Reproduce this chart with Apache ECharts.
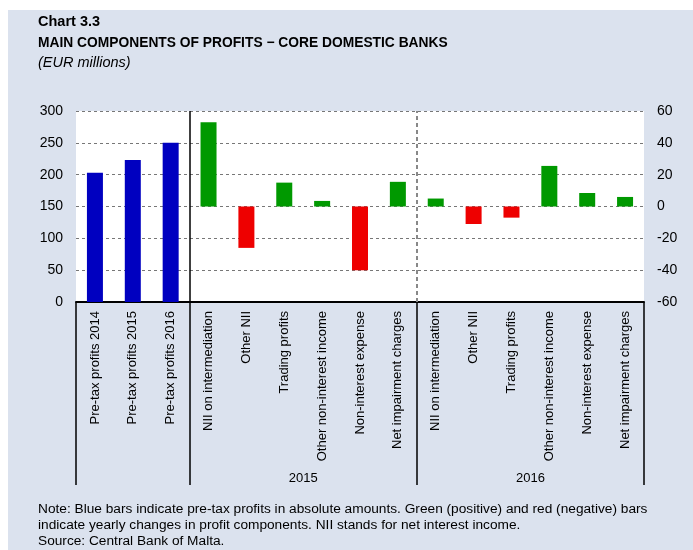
<!DOCTYPE html>
<html>
<head>
<meta charset="utf-8">
<script src="https://cdn.jsdelivr.net/npm/echarts@6/dist/echarts.min.js"></script>
<style>
  html, body { margin: 0; padding: 0; background: #fff; }
  #bg { position: absolute; left: 8px; top: 10px; width: 685px; height: 540px; background: #dbe2ee; }
  #chart { position: absolute; left: 0; top: 0; width: 693px; height: 550px; }
</style>
</head>
<body>
<div id="bg"></div>
<div id="chart"></div>
<script>
// categories along the bottom
const categories = [
  'Pre-tax profits 2014', 'Pre-tax profits 2015', 'Pre-tax profits 2016',
  'NII on intermediation', 'Other NII', 'Trading profits', 'Other non-interest income', 'Non-interest expense', 'Net impairment charges',
  'NII on intermediation', 'Other NII', 'Trading profits', 'Other non-interest income', 'Non-interest expense', 'Net impairment charges'
]
// pre-tax profits, left axis
const profits = [203, 223, 250, '-', '-', '-', '-', '-', '-', '-', '-', '-', '-', '-', '-']
// yearly changes, right axis
const changes = ['-', '-', '-', 53, -26, 15, 3.5, -40, 15.5, 5, -11, -7, 25.5, 8.5, 6]
const years = { 6: '2015', 12: '2016' }

const chart = echarts.init(document.getElementById('chart'))
const font = 'Liberation Sans, Arial, sans-serif'

const option = {
  animation: false,
  backgroundColor: 'transparent',
  textStyle: { fontFamily: font },
  title: [
    { text: 'Chart 3.3', left: 33, top: 9, textStyle: { fontSize: 14.5, fontWeight: 'bold', color: '#000', fontFamily: font } },
    { text: 'MAIN COMPONENTS OF PROFITS \u2212 CORE DOMESTIC BANKS', left: 33, top: 31, textStyle: { fontSize: 13.8, fontWeight: 'bold', color: '#000', fontFamily: font } },
    { text: '(EUR millions)', left: 33, top: 50, textStyle: { fontSize: 14.5, fontStyle: 'italic', fontWeight: 'normal', color: '#000', fontFamily: font } },
    {
      text: 'Note: Blue bars indicate pre-tax profits in absolute amounts. Green (positive) and red (negative) bars\nindicate yearly changes in profit components. NII stands for net interest income.\nSource: Central Bank of Malta.',
      left: 33, top: 496,
      textStyle: { fontSize: 13.7, fontWeight: 'normal', color: '#000', lineHeight: 16, fontFamily: font }
    }
  ],
  grid: { left: 76, right: 49, top: 111, bottom: 248, backgroundColor: '#fff', show: true, borderWidth: 0 },
  xAxis: [
    {
      type: 'category',
      data: categories,
      axisLine: { lineStyle: { color: '#000', width: 2 } },
      axisTick: {
        show: true,
        length: 183,
        interval: function (i) { return i === 0 || i === 3 || i === 9 },
        lineStyle: { color: '#000', width: 1.5 }
      },
      axisLabel: { rotate: 90, fontSize: 13, color: '#000', margin: 9, interval: 0 }
    },
    {
      type: 'value',
      min: 0, max: 15, interval: 3,
      position: 'bottom',
      offset: 162,
      axisLine: { show: false },
      axisTick: { show: false },
      splitLine: { show: false },
      axisLabel: {
        fontSize: 13, color: '#000', margin: 8,
        formatter: function (v) { return years[v] || '' }
      }
    }
  ],
  yAxis: [
    {
      type: 'value', min: 0, max: 300, interval: 50,
      axisLine: { show: false }, axisTick: { show: false },
      axisLabel: { fontSize: 14, color: '#000', margin: 13 },
      splitLine: { lineStyle: { color: '#777', type: [3, 3] } }
    },
    {
      type: 'value', min: -60, max: 60, interval: 20, position: 'right',
      axisLine: { show: false }, axisTick: { show: false },
      axisLabel: { fontSize: 14, color: '#000', margin: 13 },
      splitLine: { show: false }
    }
  ],
  series: [
    {
      name: 'Pre-tax profits', type: 'bar', yAxisIndex: 0,
      data: profits, barWidth: 16, barGap: '-100%',
      itemStyle: { color: '#0000c0' }
    },
    {
      name: 'Changes', type: 'bar', yAxisIndex: 1,
      data: changes.map(v => v === '-' ? v : { value: v, itemStyle: { color: v >= 0 ? '#009900' : '#ee0000' } }),
      barWidth: 16
    },
    {
      name: 'separators', type: 'scatter', xAxisIndex: 1, yAxisIndex: 1,
      data: [], silent: true,
      markLine: {
        silent: true, symbol: 'none', label: { show: false },
        data: [
          { xAxis: 3, lineStyle: { color: '#000', width: 1.5, type: 'solid' } },
          { xAxis: 9, lineStyle: { color: '#888', width: 2, type: [4, 3] } }
        ]
      }
    }
  ]
}

chart.setOption(option)
</script>
</body>
</html>
